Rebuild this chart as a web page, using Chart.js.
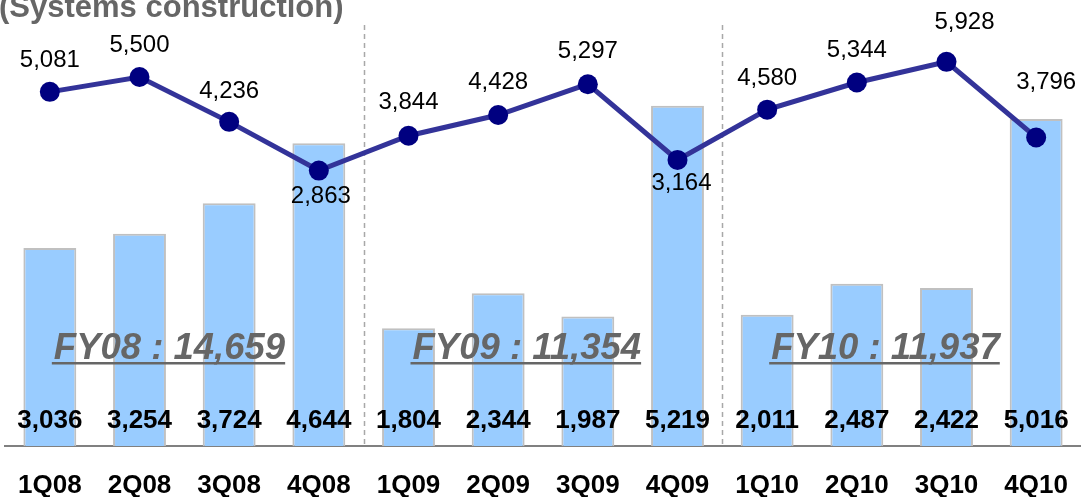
<!DOCTYPE html>
<html>
<head>
<meta charset="utf-8">
<script src="https://cdn.jsdelivr.net/npm/chart.js@4.4.1/dist/chart.umd.min.js"></script>
<style>
  html, body { margin: 0; padding: 0; background: #fff; }
</style>
</head>
<body>
<canvas id="myChart" width="1081" height="497"></canvas>
<script>
// quarterly figures
const quarters = ['1Q08', '2Q08', '3Q08', '4Q08', '1Q09', '2Q09', '3Q09', '4Q09', '1Q10', '2Q10', '3Q10', '4Q10'];
const barValues = [3036, 3254, 3724, 4644, 1804, 2344, 1987, 5219, 2011, 2487, 2422, 5016];
const lineValues = [5081, 5500, 4236, 2863, 3844, 4428, 5297, 3164, 4580, 5344, 5928, 3796];
const fyLabels = ['FY08 : 14,659', 'FY09 : 11,354', 'FY10 : 11,937'];
const fyFirstQuarter = [0, 4, 8];

// where each line label sits relative to its point (dx, dy)
const lineLabelOffsets = [[0, -31], [0, -32], [0, -30], [2, 26], [0, -33], [0, -33],
  [0, -33], [4, 23], [0, -31], [0, -32], [18, -39], [10, -55]];

const FONT = '"Liberation Sans", Arial, sans-serif';
const fmt = v => v.toLocaleString('en-US');

const overlay = {
  id: 'overlay',
  beforeDatasetsDraw(chart) {
    const ctx = chart.ctx, x = chart.scales.x, area = chart.chartArea;
    // dashed separators between fiscal years
    ctx.save();
    ctx.strokeStyle = '#a8a8a8';
    ctx.lineWidth = 1.5;
    ctx.setLineDash([5, 4]);
    [3, 7].forEach(i => {
      const px = Math.round((x.getPixelForValue(i) + x.getPixelForValue(i + 1)) / 2) + 0.5;
      ctx.beginPath();
      ctx.moveTo(px, 25);
      ctx.lineTo(px, area.bottom);
      ctx.stroke();
    });
    ctx.restore();
  },
  afterDatasetsDraw(chart) {
    const ctx = chart.ctx, x = chart.scales.x;
    ctx.save();
    // title, cut off at the top
    ctx.fillStyle = '#666666';
    ctx.font = 'bold 31px ' + FONT;
    ctx.textAlign = 'left';
    ctx.textBaseline = 'alphabetic';
    ctx.fillText('(Systems construction)', -1, 17);

    // bar values near the bottom, category names under the axis
    ctx.fillStyle = '#000';
    ctx.font = 'bold 26px ' + FONT;
    ctx.textAlign = 'center';
    chart.getDatasetMeta(0).data.forEach((bar, i) => {
      ctx.fillText(fmt(barValues[i]), bar.x, 428);
      ctx.fillText(quarters[i], x.getPixelForValue(i), 493);
    });

    // line values
    ctx.font = '24px ' + FONT;
    ctx.textBaseline = 'middle';
    chart.getDatasetMeta(1).data.forEach((pt, i) => {
      const o = lineLabelOffsets[i];
      ctx.fillText(fmt(lineValues[i]), pt.x + o[0], pt.y + o[1]);
    });

    // fiscal year totals
    ctx.font = 'italic bold 36.5px ' + FONT;
    ctx.fillStyle = '#666666';
    ctx.textAlign = 'left';
    ctx.textBaseline = 'alphabetic';
    fyLabels.forEach((t, k) => {
      const px = x.getPixelForValue(fyFirstQuarter[k]) + 4;
      ctx.fillText(t, px, 359);
      const w = ctx.measureText(t).width;
      ctx.fillRect(px - 2, 362, w + 2, 2.5);
    });
    ctx.restore();
  }
};

const ctx = document.getElementById('myChart').getContext('2d');
const myChart = new Chart(ctx, {
  data: {
    labels: quarters,
    datasets: [
      {
        type: 'bar',
        data: barValues,
        backgroundColor: '#99ccff',
        borderColor: '#c0c0c0',
        borderWidth: 2,
        barPercentage: 0.59,
        categoryPercentage: 1,
        yAxisID: 'y',
        order: 2
      },
      {
        type: 'line',
        data: lineValues,
        borderColor: '#333399',
        borderWidth: 5,
        pointRadius: 10,
        pointBackgroundColor: '#000080',
        pointBorderColor: '#000080',
        pointBorderWidth: 0,
        tension: 0,
        clip: false,
        yAxisID: 'y1',
        order: 1
      }
    ]
  },
  options: {
    responsive: false,
    animation: false,
    layout: { autoPadding: false, padding: { left: 5, right: 0, top: 0, bottom: 0 } },
    plugins: { legend: { display: false }, tooltip: { enabled: false } },
    scales: {
      x: {
        grid: { display: false, drawTicks: false },
        border: { display: true, color: '#808080', width: 2 },
        ticks: { display: false },
        afterFit: s => { s.height = 51; }
      },
      y: { display: false, min: 0, max: 6840 },
      y1: { display: false, min: -4900, max: 7670 }
    }
  },
  plugins: [overlay]
});
</script>
</body>
</html>
